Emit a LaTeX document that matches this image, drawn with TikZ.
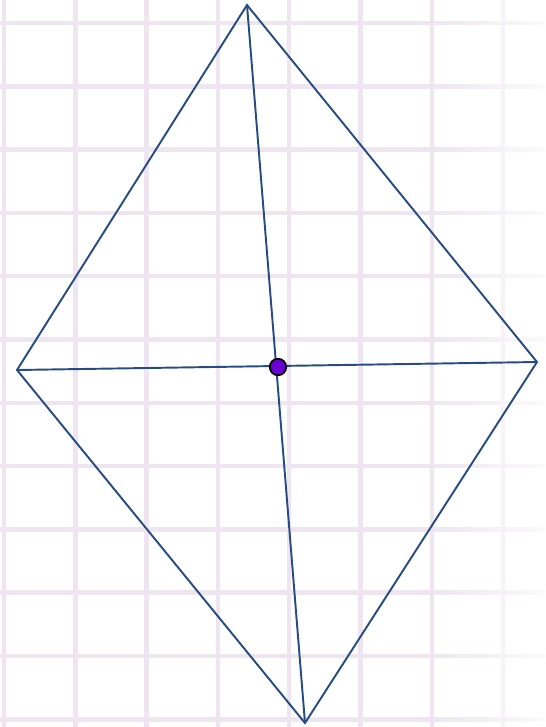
\documentclass[tikz,border=0pt]{standalone}
\usetikzlibrary{calc, fadings}
\definecolor{cgrid}{HTML}{EEE5F0}
\definecolor{cedge}{HTML}{264C82}
\definecolor{cdot}{HTML}{6A00D4}
\tikzfading[name=fadeleft, left color=transparent!100, right color=transparent!20]
\tikzset{
  gridline/.style={draw=cgrid, line width=2.6pt},
  edge/.style={draw=cedge, line width=1.1pt, line join=miter},
  centre/.style={circle, draw=black, fill=cdot, line width=1pt, minimum size=0.33cm, inner sep=0pt},
}

\begin{document}
\begin{tikzpicture}[x=0.02cm, y=-0.02cm]
  \useasboundingbox (0,0) rectangle (545,727);
  % squared paper
  \foreach \k in {0,...,7} \draw[gridline] (4+71.3*\k,0) -- (4+71.3*\k,727);
  \foreach \k in {0,...,11} \draw[gridline] (0,23+63.3*\k) -- (545,23+63.3*\k);
  \fill[white, path fading=fadeleft] (430,0) rectangle (545,727);
  % rhombus and its diagonals
  \coordinate (top) at (247,5);
  \coordinate (left) at (17,370);
  \coordinate (right) at (537,362);
  \coordinate (bottom) at (305,723);
  \draw[edge] (top) -- (right) -- (bottom) -- (left) -- cycle;
  \draw[edge] (top) -- (bottom);
  \draw[edge] (left) -- (right);
  \node[centre] (o) at (278,367) {};
\end{tikzpicture}
\end{document}
